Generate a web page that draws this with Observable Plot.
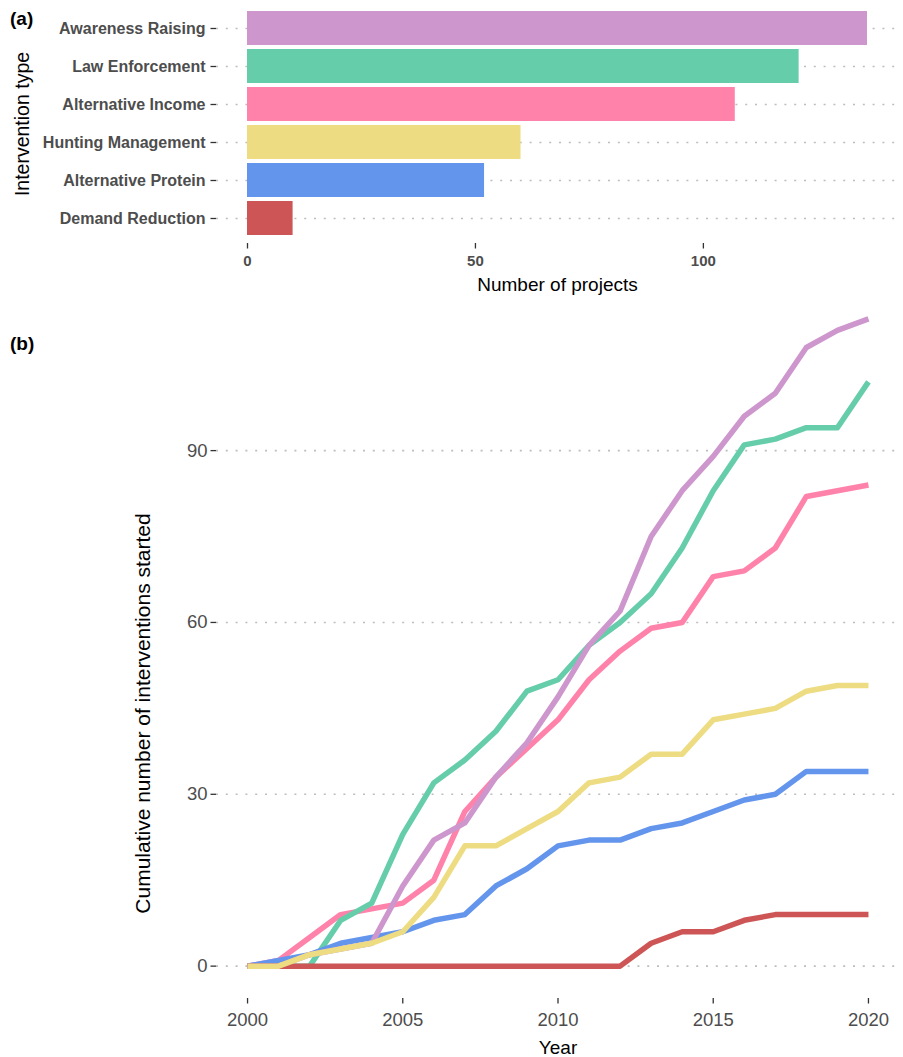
<!DOCTYPE html>
<html><head><meta charset="utf-8">
<script src="https://cdn.jsdelivr.net/npm/d3@7"></script>
<script src="https://cdn.jsdelivr.net/npm/@observablehq/plot@0.6"></script>
<style>
body{margin:0;background:#fff;}
#wrap{position:relative;width:903px;height:1057px;font-family:"Liberation Sans",Arial,sans-serif;overflow:hidden;}
.panel{position:absolute;left:0;}
.tag{position:absolute;left:10px;font-weight:bold;font-size:19px;line-height:1;color:#000;}
</style></head><body><div id="wrap"></div>
<script>
// ---- data ----
const categories = ["Awareness Raising","Law Enforcement","Alternative Income","Hunting Management","Alternative Protein","Demand Reduction"];
const projectCounts = [136,121,107,60,52,10];
const colors = ["#CD96CD","#66CDAA","#FF82AB","#EEDC82","#6495ED","#CD5555"];

const years = [2000,2001,2002,2003,2004,2005,2006,2007,2008,2009,2010,2011,2012,2013,2014,2015,2016,2017,2018,2019,2020];
const awarenessCum = [0,0,2,3,4,14,22,25,33,39,47,56,62,75,83,89,96,100,108,111,113];
const lawCum       = [0,0,0,8,11,23,32,36,41,48,50,56,60,65,73,83,91,92,94,94,102];
const incomeCum    = [0,1,5,9,10,11,15,27,33,38,43,50,55,59,60,68,69,73,82,83,84];
const huntingCum   = [0,0,2,3,4,6,12,21,21,24,27,32,33,37,37,43,44,45,48,49,49];
const proteinCum   = [0,1,2,4,5,6,8,9,14,17,21,22,22,24,25,27,29,30,34,34,34];
const demandCum    = [0,0,0,0,0,0,0,0,0,0,0,0,0,4,6,6,8,9,9,9,9];

const xTicksA = [0,50,100];
const xTicksB = [2000,2005,2010,2015,2020];
const yTicksB = [0,30,60,90];

// ---- tables ----
const bars = categories.map((c,i)=>({type:c, n:projectCounts[i]}));
const seriesOrder = [
  ["Alternative Income", incomeCum],
  ["Law Enforcement", lawCum],
  ["Alternative Protein", proteinCum],
  ["Awareness Raising", awarenessCum],
  ["Demand Reduction", demandCum],
  ["Hunting Management", huntingCum]
];
const long = [];
for (const [type, arr] of seriesOrder) years.forEach((yr,i)=>long.push({type, year:yr, value:arr[i]}));

const FONT = '"Liberation Sans", Arial, sans-serif';
const gridStyle = {stroke:"#bdbdbd", strokeDasharray:"2,7.8", strokeWidth:1.6};
const wrap = document.getElementById("wrap");

// ---- panel (a) ----
const pa = Plot.plot({
  width:903, height:300,
  marginLeft:216, marginRight:5, marginTop:4, marginBottom:57,
  style:{background:"transparent", fontFamily:FONT},
  x:{domain:[-6.8,142.8]},
  y:{domain:categories, paddingInner:0.1, paddingOuter:0.15, align:0.5},
  color:{domain:categories, range:colors},
  marks:[
    Plot.ruleY(categories, {y:d=>d, ...gridStyle}),
    Plot.barX(bars, {x:"n", y:"type", fill:"type"}),
    Plot.axisY({tickSize:5.5, stroke:"#333", strokeWidth:1.3, text:null, label:null}),
    Plot.axisY({tickSize:0, tickPadding:11, fill:"#4d4d4d", fontWeight:"bold", fontSize:16, label:null}),
    Plot.axisX({ticks:xTicksA, tickSize:5.5, stroke:"#333", strokeWidth:1.3, text:null, label:null}),
    Plot.axisX({ticks:xTicksA, tickSize:0, tickPadding:12, fill:"#4d4d4d", fontWeight:"bold", fontSize:15, label:null}),
    Plot.text(["Number of projects"], {frameAnchor:"bottom", dy:41, lineAnchor:"middle", fontSize:19, fill:"#000"}),
    Plot.text(["Intervention type"], {frameAnchor:"left", dx:-194, rotate:-90, textAnchor:"middle", lineAnchor:"middle", fontSize:19.5, fill:"#000"})
  ]
});
pa.classList.add("panel"); pa.style.top = "0px";
wrap.appendChild(pa);

// ---- panel (b) ----
const pb = Plot.plot({
  width:903, height:777,
  marginLeft:216, marginRight:4, marginTop:6, marginBottom:59,
  style:{background:"transparent", fontFamily:FONT},
  x:{domain:[1999,2021]},
  y:{domain:[-5.65,118.65]},
  color:{domain:categories, range:colors},
  marks:[
    Plot.ruleY(yTicksB, gridStyle),
    Plot.lineY(long, {x:"year", y:"value", z:"type", stroke:"type", strokeWidth:5.5, strokeLinejoin:"round", strokeLinecap:"butt"}),
    Plot.axisY({ticks:yTicksB, tickSize:5.5, stroke:"#333", strokeWidth:1.3, text:null, label:null}),
    Plot.axisY({ticks:yTicksB, tickSize:0, tickPadding:9, fill:"#4d4d4d", fontSize:18.5, label:null}),
    Plot.axisX({ticks:xTicksB, tickSize:5.5, stroke:"#333", strokeWidth:1.3, text:null, label:null}),
    Plot.axisX({ticks:xTicksB, tickSize:0, tickPadding:14, fill:"#4d4d4d", fontSize:18.5, tickFormat:d=>String(d), label:null}),
    Plot.text(["Year"], {frameAnchor:"bottom", dy:49, lineAnchor:"middle", fontSize:19, fill:"#000"}),
    Plot.text(["Cumulative number of interventions started"], {frameAnchor:"left", dx:-73, dy:71, rotate:-90, textAnchor:"middle", lineAnchor:"middle", fontSize:21, fill:"#000"})
  ]
});
pb.classList.add("panel"); pb.style.top = "280px";
wrap.appendChild(pb);

// ---- panel tags ----
for (const [t, top] of [["(a)",8.5],["(b)",333.5]]) {
  const d = document.createElement("div");
  d.className = "tag"; d.textContent = t; d.style.top = top + "px";
  wrap.appendChild(d);
}
</script>
</body></html>
